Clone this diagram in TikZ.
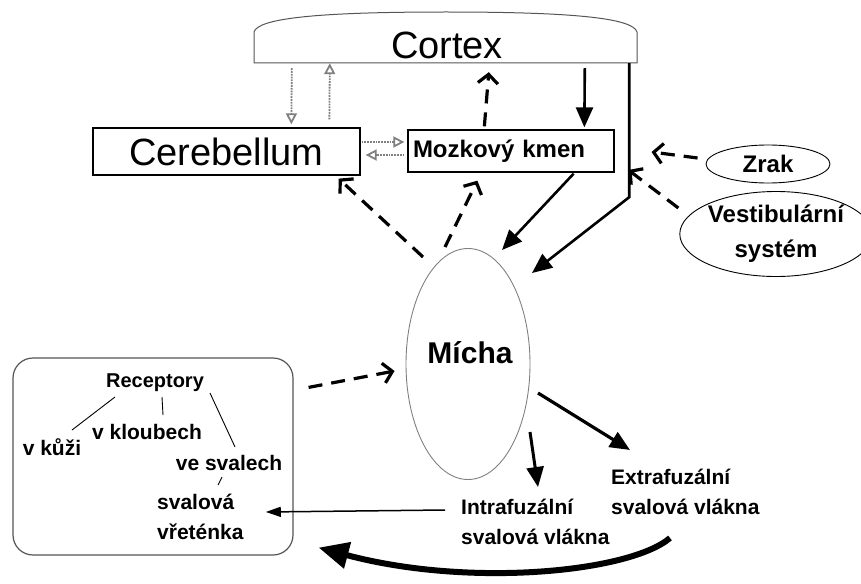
\documentclass[tikz,border=0pt]{standalone}
\usepackage{fontspec}
\setmainfont{Liberation Sans}
\usetikzlibrary{arrows.meta,shapes.geometric}
\definecolor{frame}{HTML}{555555}
\definecolor{faintgray}{HTML}{808080}
\tikzset{
  box/.style={draw=black, line width=1.3pt, inner sep=0pt},
  oval/.style={ellipse, draw=black, line width=0.9pt, inner sep=0pt},
  bigtxt/.style={font=\fontsize{38}{42}\selectfont},
  boldtxt/.style={font=\fontsize{24}{35}\selectfont\bfseries},
  lab/.style={font=\fontsize{21}{30}\selectfont\bfseries, inner sep=0pt, align=left},
  solidarrow/.style={draw=black, line width=2.6pt, -{Triangle[length=20pt,width=17pt]}},
  dasharrow/.style={draw=black, line width=3.2pt, dash pattern=on 14pt off 9pt, -{Straight Barb[length=9pt,width=20pt]}},
  grayarrow/.style={draw=faintgray, line width=1.8pt, densely dotted, -{Triangle[open,length=11pt,width=11pt]}},
  branch/.style={draw=black, line width=0.9pt},
}

\begin{document}
\begin{tikzpicture}[x=1pt,y=-1pt]
  \useasboundingbox (0,0) rectangle (861,583);
  % cortex outline, flat bottom and a low arch on top
  \draw[draw=frame, line width=1pt] (254,63) -- (254,32)
    .. controls (258,18) and (320,12) .. (446,12)
    .. controls (572,12) and (633,18) .. (637,32) -- (637,63) -- cycle;
  \node[minimum width=383pt, minimum height=51pt, inner sep=0pt] (cortexframe) at (445.5,37.5) {};
  \node[bigtxt] (cortex) at (447,45) {Cortex};

  \node[box, minimum width=267pt, minimum height=47pt, bigtxt] (cereb) at (226.5,151.5) {Cerebellum};
  \node[box, minimum width=206pt, minimum height=42pt, boldtxt, inner xsep=5pt, text width=196pt, align=left] (mozek) at (511,151) {Mozkový kmen};
  \node[oval, minimum width=124pt, minimum height=38pt, boldtxt] (zrak) at (768,164) {Zrak};
  \node[oval, minimum width=165pt, minimum height=85pt, boldtxt, align=center] (vestib) at (776,234) {Vestibulární\\systém};
  \node[oval, draw=faintgray, minimum width=124pt, minimum height=231pt] (micha) at (468,364) {};
  \node[font=\fontsize{30}{36}\selectfont\bfseries] (michatxt) at ([shift={(2,-11)}]micha.center) {Mícha};

  % receptors
  \node[draw=frame, line width=1.2pt, rounded corners=20pt, minimum width=280pt, minimum height=197pt] (recbox) at (153,456.5) {};
  \node[lab, font=\fontsize{20}{30}\selectfont\bfseries] (recept) at (155,383) {Receptory};
  \node[lab] (vkuzi) at (52,447) {v kůži};
  \node[lab] (vkloub) at (147,432) {v kloubech};
  \node[lab] (vesval) at (229,463) {ve svalech};
  \node[lab, anchor=west] (vreten) at (157,517) {svalová\\vřeténka};
  \node[lab, anchor=west] (extra) at (611,492) {Extrafuzální\\svalová vlákna};
  \node[lab, anchor=west] (intra) at (461,522) {Intrafuzální\\svalová vlákna};

  \draw[branch] ([shift={(-40,14)}]recept.center) -- ([shift={(20,-17)}]vkuzi.center);
  \draw[branch] ([shift={(7,14)}]recept.center) -- ([shift={(16,-17)}]vkloub.center);
  \draw[branch] ([shift={(55,10)}]recept.center) -- ([shift={(6,-16)}]vesval.center);
  \draw[branch] ([shift={(-7,14)}]vesval.center) -- ([shift={(61,-32)}]vreten.west);

  % cortex <-> cerebellum <-> brainstem
  \draw[grayarrow] ([shift={(38,5)}]cortexframe.south west) -- ([shift={(199,-3)}]cereb.north west);
  \draw[grayarrow] ([shift={(237,-8)}]cereb.north west) -- ([shift={(76,0)}]cortexframe.south west);
  \draw[grayarrow] ([shift={(1,-9.5)}]cereb.east) -- ([shift={(-3,-9)}]mozek.west);
  \draw[grayarrow] ([shift={(-3,4)}]mozek.west) -- ([shift={(5,3.5)}]cereb.east);

  % ascending, dashed
  \draw[dasharrow] ([shift={(-45,-107)}]micha.center) -- ([shift={(-22,3)}]cereb.south east);
  \draw[dasharrow] ([shift={(-23,-117)}]micha.center) -- ([shift={(70,8)}]mozek.south west);
  \draw[dasharrow] ([shift={(77,-3)}]mozek.north west) -- ([shift={(235,9)}]cortexframe.south west);
  \draw[dasharrow] ([shift={(-8,-6)}]zrak.west) -- ([shift={(-54,-12)}]zrak.west);
  \draw[dasharrow] ([shift={(-1,-26)}]vestib.west) -- ([shift={(-51,-64)}]vestib.west);
  \draw[dasharrow] ([shift={(15,30)}]recbox.north east) -- ([shift={(-11,7)}]micha.west);

  % descending, solid
  \draw[solidarrow] ([shift={(331,5)}]cortexframe.south west) -- ([shift={(177,-2)}]mozek.north west);
  \draw[solidarrow] ([shift={(-8,0)}]cortexframe.south east) -- ++(0,134) -- ([shift={(64,-91)}]micha.center);
  \draw[solidarrow] ([shift={(-41,1)}]mozek.south east) -- ([shift={(34,-114)}]micha.center);
  \draw[solidarrow, line width=3.2pt] ([shift={(70,29)}]micha.center) -- ([shift={(19,-42)}]extra.west);
  \draw[solidarrow, line width=3pt] ([shift={(62,68)}]micha.center) -- ([shift={(77,-35)}]intra.west);
  \draw[draw=black, line width=1.5pt, -{Triangle[length=15pt,width=10pt]}] ([shift={(-16,-12)}]intra.west) -- ([shift={(22,-5)}]vreten.east);
  \draw[line width=6pt, -{Triangle[length=30pt,width=26pt]}] ([shift={(59,46)}]extra.west)
    .. controls (630,572) and (470,588) .. ([shift={(25,-8)}]recbox.south east);
\end{tikzpicture}
\end{document}
